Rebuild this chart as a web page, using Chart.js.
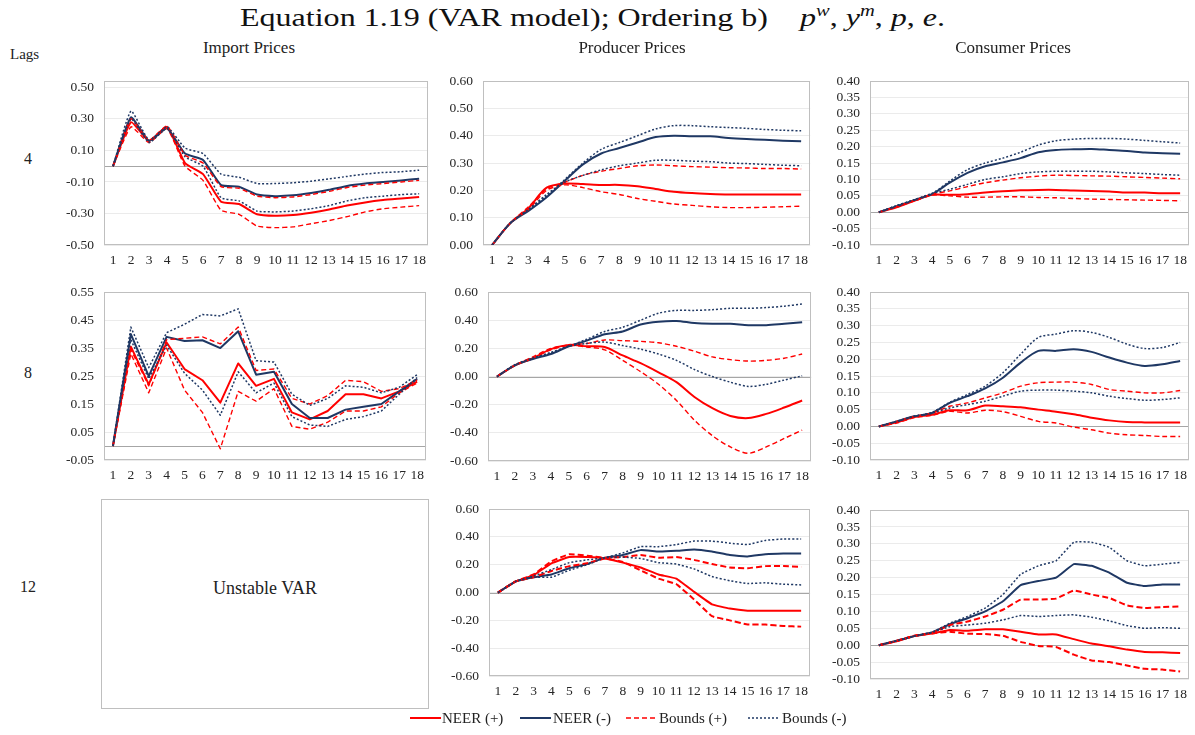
<!DOCTYPE html>
<html>
<head>
<meta charset="utf-8">
<title>Impulse responses – VAR model</title>
<script src="https://cdn.jsdelivr.net/npm/chart.js@4.4.1/dist/chart.umd.min.js"></script>
<style>
  html, body { margin: 0; padding: 0; background: #fff; }
  body { position: relative; width: 1195px; height: 735px; overflow: hidden; font-family: "Liberation Serif", "DejaVu Serif", serif; color: #222; }
  .abs { position: absolute; white-space: nowrap; }
  #title { top: 2px; left: 0; font-size: 25px; line-height: 32px; color: #111; transform-origin: 0 50%; }
  #title i { font-style: italic; }
  #title sup { font-size: 16px; vertical-align: 0; position: relative; top: -10px; }
  .colhead { top: 38px; font-size: 17px; line-height: 20px; color: #222; transform: translateX(-50%); }
  .rowlab { font-size: 16px; line-height: 20px; color: #222; transform: translate(-50%, -50%); }
  #lagsHead { left: 10px; top: 44px; font-size: 15px; line-height: 20px; color: #222; }
  #unstable { left: 101px; top: 499px; width: 326px; height: 208px; border: 1px solid #bfbfbf; }
  #unstable span { position: absolute; left: 50%; top: 88px; transform: translate(-50%, -50%); font-size: 18px; line-height: 22px; color: #222; }
  canvas.panel { position: absolute; }
  .legtext { font-size: 15px; line-height: 20px; top: 708px; color: #222; }
  canvas.legline { position: absolute; top: 712px; }
</style>
</head>
<body>

<div id="title" class="abs"><span id="titleText">Equation 1.19 (VAR model); Ordering b)&nbsp;&nbsp;&nbsp; <i>p</i><sup><i>w</i></sup>, <i>y</i><sup><i>m</i></sup>, <i>p</i>, <i>e</i>.</span></div>
<div id="lagsHead" class="abs">Lags</div>
<div id="unstable" class="abs"><span>Unstable VAR</span></div>

<script>
// ---------------------------------------------------------------------------
// Horizons, headings and axis ticks
// ---------------------------------------------------------------------------
const horizons = ['1','2','3','4','5','6','7','8','9','10','11','12','13','14','15','16','17','18'];
const columnTitles = ['Import Prices', 'Producer Prices', 'Consumer Prices'];
const lagLabels = ['4', '8', '12'];
const legendLabels = ['NEER (+)', 'NEER (-)', 'Bounds (+)', 'Bounds (-)'];

const ticksImport4   = [-0.50, -0.30, -0.10, 0.10, 0.30, 0.50];
const ticksImport8   = [-0.05, 0.05, 0.15, 0.25, 0.35, 0.45, 0.55];
const ticksProducer4 = [0.00, 0.10, 0.20, 0.30, 0.40, 0.50, 0.60];
const ticksProducerW = [-0.60, -0.40, -0.20, 0.00, 0.20, 0.40, 0.60];
const ticksConsumer  = [-0.10, -0.05, 0.00, 0.05, 0.10, 0.15, 0.20, 0.25, 0.30, 0.35, 0.40];

// ---------------------------------------------------------------------------
// Impulse responses: NEER (+), NEER (-) and their upper / lower bounds
// ---------------------------------------------------------------------------
// Import prices, 4 lags
const imp4Pos   = [0, 0.28, 0.16, 0.25, 0.02, -0.05, -0.225, -0.24, -0.305, -0.315, -0.31, -0.295, -0.275, -0.25, -0.23, -0.215, -0.205, -0.195];
const imp4Neg   = [0, 0.31, 0.16, 0.24, 0.08, 0.04, -0.12, -0.13, -0.18, -0.19, -0.185, -0.17, -0.15, -0.125, -0.11, -0.10, -0.09, -0.08];
const imp4PosHi = [0, 0.30, 0.165, 0.255, 0.07, 0.02, -0.13, -0.14, -0.19, -0.20, -0.195, -0.18, -0.16, -0.135, -0.12, -0.11, -0.10, -0.09];
const imp4PosLo = [0, 0.25, 0.15, 0.24, 0.00, -0.09, -0.28, -0.305, -0.38, -0.39, -0.385, -0.365, -0.345, -0.32, -0.29, -0.27, -0.26, -0.25];
const imp4NegHi = [0, 0.35, 0.165, 0.25, 0.115, 0.08, -0.05, -0.07, -0.11, -0.11, -0.105, -0.095, -0.08, -0.065, -0.05, -0.04, -0.035, -0.025];
const imp4NegLo = [0, 0.30, 0.15, 0.24, 0.06, 0.00, -0.20, -0.22, -0.285, -0.29, -0.285, -0.27, -0.25, -0.22, -0.20, -0.19, -0.18, -0.175];

// Producer prices, 4 lags
const prod4Pos   = [0, 0.08, 0.135, 0.21, 0.225, 0.223, 0.22, 0.22, 0.215, 0.205, 0.195, 0.19, 0.187, 0.185, 0.185, 0.185, 0.185, 0.185];
const prod4Neg   = [0, 0.08, 0.125, 0.175, 0.235, 0.295, 0.335, 0.355, 0.375, 0.395, 0.40, 0.398, 0.398, 0.392, 0.388, 0.385, 0.382, 0.38];
const prod4PosHi = [0, 0.08, 0.14, 0.205, 0.23, 0.255, 0.27, 0.28, 0.29, 0.293, 0.29, 0.287, 0.285, 0.283, 0.282, 0.28, 0.28, 0.278];
const prod4PosLo = [0, 0.08, 0.13, 0.20, 0.22, 0.21, 0.195, 0.185, 0.17, 0.16, 0.15, 0.145, 0.14, 0.137, 0.137, 0.138, 0.14, 0.142];
const prod4NegHi = [0, 0.08, 0.13, 0.18, 0.24, 0.30, 0.35, 0.375, 0.40, 0.425, 0.437, 0.437, 0.433, 0.43, 0.427, 0.423, 0.42, 0.418];
const prod4NegLo = [0, 0.08, 0.13, 0.185, 0.23, 0.255, 0.275, 0.29, 0.30, 0.31, 0.31, 0.307, 0.305, 0.30, 0.298, 0.295, 0.292, 0.29];

// Consumer prices, 4 lags
const cons4Pos   = [0, 0.015, 0.035, 0.053, 0.053, 0.055, 0.06, 0.064, 0.067, 0.068, 0.068, 0.066, 0.065, 0.063, 0.06, 0.06, 0.058, 0.058];
const cons4Neg   = [0, 0.018, 0.037, 0.055, 0.09, 0.12, 0.14, 0.152, 0.165, 0.183, 0.19, 0.192, 0.193, 0.19, 0.187, 0.182, 0.18, 0.178];
const cons4PosHi = [0, 0.018, 0.036, 0.055, 0.065, 0.078, 0.09, 0.098, 0.105, 0.11, 0.113, 0.112, 0.111, 0.11, 0.108, 0.106, 0.104, 0.102];
const cons4PosLo = [0, 0.016, 0.034, 0.052, 0.05, 0.046, 0.046, 0.047, 0.047, 0.045, 0.044, 0.042, 0.04, 0.039, 0.038, 0.037, 0.036, 0.035];
const cons4NegHi = [0, 0.02, 0.038, 0.057, 0.095, 0.13, 0.15, 0.165, 0.183, 0.205, 0.218, 0.223, 0.225, 0.225, 0.223, 0.219, 0.215, 0.211];
const cons4NegLo = [0, 0.02, 0.038, 0.057, 0.07, 0.085, 0.10, 0.108, 0.118, 0.123, 0.125, 0.125, 0.125, 0.123, 0.12, 0.118, 0.115, 0.113];

// Import prices, 8 lags
const imp8Pos   = [0, 0.355, 0.22, 0.37, 0.275, 0.235, 0.155, 0.295, 0.215, 0.24, 0.12, 0.095, 0.125, 0.185, 0.185, 0.17, 0.195, 0.23];
const imp8Neg   = [0, 0.40, 0.25, 0.39, 0.375, 0.378, 0.35, 0.41, 0.255, 0.265, 0.15, 0.10, 0.10, 0.13, 0.14, 0.15, 0.195, 0.24];
const imp8PosHi = [0, 0.345, 0.215, 0.38, 0.385, 0.39, 0.365, 0.425, 0.27, 0.275, 0.17, 0.15, 0.18, 0.235, 0.23, 0.195, 0.205, 0.235];
const imp8PosLo = [0, 0.33, 0.19, 0.35, 0.20, 0.12, -0.01, 0.195, 0.16, 0.205, 0.07, 0.06, 0.085, 0.125, 0.125, 0.14, 0.19, 0.225];
const imp8NegHi = [0, 0.425, 0.28, 0.405, 0.435, 0.47, 0.465, 0.49, 0.305, 0.30, 0.185, 0.145, 0.17, 0.215, 0.21, 0.19, 0.21, 0.255];
const imp8NegLo = [0, 0.38, 0.24, 0.36, 0.26, 0.20, 0.11, 0.265, 0.19, 0.225, 0.105, 0.075, 0.07, 0.095, 0.105, 0.125, 0.185, 0.245];

// Producer prices, 8 lags
const prod8Pos   = [0, 0.08, 0.13, 0.195, 0.225, 0.215, 0.21, 0.15, 0.095, 0.03, -0.04, -0.145, -0.225, -0.28, -0.295, -0.265, -0.22, -0.17];
const prod8Neg   = [0, 0.08, 0.125, 0.16, 0.215, 0.255, 0.30, 0.32, 0.37, 0.39, 0.395, 0.38, 0.375, 0.375, 0.365, 0.365, 0.375, 0.385];
const prod8PosHi = [0, 0.08, 0.14, 0.20, 0.225, 0.235, 0.26, 0.255, 0.25, 0.24, 0.215, 0.18, 0.14, 0.12, 0.11, 0.115, 0.13, 0.16];
const prod8PosLo = [0, 0.08, 0.13, 0.19, 0.22, 0.21, 0.19, 0.115, 0.035, -0.055, -0.17, -0.31, -0.42, -0.50, -0.545, -0.50, -0.44, -0.38];
const prod8NegHi = [0, 0.08, 0.13, 0.17, 0.215, 0.265, 0.32, 0.35, 0.40, 0.45, 0.47, 0.47, 0.475, 0.485, 0.485, 0.49, 0.50, 0.515];
const prod8NegLo = [0, 0.085, 0.13, 0.17, 0.215, 0.235, 0.245, 0.22, 0.195, 0.16, 0.115, 0.05, 0.00, -0.04, -0.07, -0.055, -0.025, 0.005];

// Consumer prices, 8 lags
const cons8Pos   = [0, 0.012, 0.028, 0.035, 0.048, 0.048, 0.062, 0.06, 0.057, 0.05, 0.044, 0.036, 0.026, 0.018, 0.013, 0.012, 0.012, 0.012];
const cons8Neg   = [0, 0.015, 0.03, 0.04, 0.07, 0.09, 0.113, 0.145, 0.19, 0.225, 0.225, 0.23, 0.222, 0.205, 0.19, 0.18, 0.185, 0.195];
const cons8PosHi = [0, 0.015, 0.03, 0.04, 0.06, 0.07, 0.085, 0.10, 0.12, 0.13, 0.132, 0.132, 0.125, 0.11, 0.105, 0.10, 0.10, 0.107];
const cons8PosLo = [0, 0.01, 0.026, 0.033, 0.045, 0.04, 0.048, 0.044, 0.03, 0.015, 0.01, -0.002, -0.01, -0.02, -0.025, -0.027, -0.03, -0.03];
const cons8NegHi = [0, 0.015, 0.03, 0.042, 0.072, 0.095, 0.12, 0.16, 0.215, 0.265, 0.275, 0.285, 0.28, 0.265, 0.245, 0.232, 0.235, 0.25];
const cons8NegLo = [0, 0.015, 0.03, 0.04, 0.055, 0.065, 0.075, 0.09, 0.105, 0.108, 0.108, 0.105, 0.10, 0.09, 0.083, 0.078, 0.08, 0.085];

// Producer prices, 12 lags
const prod12Pos   = [0, 0.08, 0.125, 0.21, 0.255, 0.255, 0.245, 0.215, 0.18, 0.13, 0.10, 0.005, -0.085, -0.115, -0.13, -0.13, -0.13, -0.13];
const prod12Neg   = [0, 0.08, 0.11, 0.13, 0.175, 0.205, 0.25, 0.27, 0.305, 0.295, 0.30, 0.31, 0.295, 0.27, 0.26, 0.275, 0.28, 0.28];
const prod12PosHi = [0, 0.08, 0.13, 0.225, 0.275, 0.265, 0.25, 0.255, 0.27, 0.25, 0.255, 0.235, 0.205, 0.18, 0.175, 0.19, 0.19, 0.185];
const prod12PosLo = [0, 0.08, 0.11, 0.155, 0.19, 0.21, 0.245, 0.22, 0.16, 0.10, 0.06, -0.05, -0.17, -0.20, -0.23, -0.23, -0.24, -0.245];
const prod12NegHi = [0, 0.08, 0.12, 0.165, 0.215, 0.235, 0.25, 0.285, 0.33, 0.33, 0.345, 0.37, 0.37, 0.355, 0.345, 0.375, 0.385, 0.385];
const prod12NegLo = [0, 0.08, 0.11, 0.11, 0.16, 0.20, 0.25, 0.255, 0.245, 0.215, 0.205, 0.17, 0.115, 0.085, 0.065, 0.07, 0.06, 0.055];

// Consumer prices, 12 lags
const cons12Pos   = [0, 0.012, 0.027, 0.035, 0.045, 0.043, 0.047, 0.047, 0.04, 0.032, 0.032, 0.018, 0.005, -0.003, -0.013, -0.02, -0.021, -0.023];
const cons12Neg   = [0, 0.013, 0.027, 0.038, 0.062, 0.08, 0.10, 0.13, 0.178, 0.19, 0.20, 0.24, 0.235, 0.215, 0.185, 0.175, 0.18, 0.18];
const cons12PosHi = [0, 0.013, 0.028, 0.036, 0.06, 0.07, 0.085, 0.105, 0.135, 0.135, 0.138, 0.162, 0.15, 0.14, 0.118, 0.11, 0.113, 0.115];
const cons12PosLo = [0, 0.012, 0.028, 0.035, 0.04, 0.034, 0.033, 0.028, 0.01, -0.002, -0.005, -0.028, -0.045, -0.05, -0.06, -0.07, -0.072, -0.078];
const cons12NegHi = [0, 0.013, 0.027, 0.038, 0.065, 0.085, 0.11, 0.15, 0.21, 0.235, 0.25, 0.305, 0.305, 0.29, 0.25, 0.235, 0.24, 0.245];
const cons12NegLo = [0, 0.013, 0.027, 0.038, 0.055, 0.06, 0.065, 0.075, 0.088, 0.085, 0.088, 0.09, 0.083, 0.072, 0.058, 0.05, 0.052, 0.05];

// ---------------------------------------------------------------------------
// Styling and layout
// ---------------------------------------------------------------------------
const RED = '#ff0000';
const NAVY = '#1f3864';
const TICK_FONT = { family: '"Liberation Serif", serif', size: 13.5 };
const TICK_COLOR = '#262626';
const AXIS_W = 60, AXIS_H = 28, PAD_T = 10, PAD_R = 4;

// plot-area rectangles (left, top, width, height) and y-axis set-up per panel
const panels = [
  { l: 104, t: 73,  w: 325, h: 172, min: -0.5,  max: 0.54, ticks: ticksImport4,   tension: 0.15, heavy: false,
    s: [imp4Pos, imp4Neg, imp4PosHi, imp4PosLo, imp4NegHi, imp4NegLo] },
  { l: 483, t: 73,  w: 328, h: 172, min: 0,     max: 0.6,  ticks: ticksProducer4, tension: 0.3,  heavy: false,
    s: [prod4Pos, prod4Neg, prod4PosHi, prod4PosLo, prod4NegHi, prod4NegLo] },
  { l: 870, t: 73,  w: 320, h: 172, min: -0.1,  max: 0.4,  ticks: ticksConsumer,  tension: 0.3,  heavy: false,
    s: [cons4Pos, cons4Neg, cons4PosHi, cons4PosLo, cons4NegHi, cons4NegLo] },
  { l: 104, t: 284, w: 323, h: 176, min: -0.05, max: 0.55, ticks: ticksImport8,   tension: 0,    heavy: false,
    s: [imp8Pos, imp8Neg, imp8PosHi, imp8PosLo, imp8NegHi, imp8NegLo] },
  { l: 488, t: 284, w: 324, h: 177, min: -0.6,  max: 0.6,  ticks: ticksProducerW, tension: 0.3,  heavy: false,
    s: [prod8Pos, prod8Neg, prod8PosHi, prod8PosLo, prod8NegHi, prod8NegLo] },
  { l: 870, t: 284, w: 320, h: 176, min: -0.1,  max: 0.4,  ticks: ticksConsumer,  tension: 0.3,  heavy: false,
    s: [cons8Pos, cons8Neg, cons8PosHi, cons8PosLo, cons8NegHi, cons8NegLo] },
  { l: 489, t: 501, w: 322, h: 175, min: -0.6,  max: 0.6,  ticks: ticksProducerW, tension: 0.1,  heavy: true,
    s: [prod12Pos, prod12Neg, prod12PosHi, prod12PosLo, prod12NegHi, prod12NegLo] },
  { l: 870, t: 502, w: 320, h: 177, min: -0.1,  max: 0.4,  ticks: ticksConsumer,  tension: 0.1,  heavy: true,
    s: [cons12Pos, cons12Neg, cons12PosHi, cons12PosLo, cons12NegHi, cons12NegLo] }
];

const lineStyles = [
  { color: RED,  width: 2,   dash: [] },      // NEER (+)
  { color: NAVY, width: 2,   dash: [] },      // NEER (-)
  { color: RED,  width: 1.4, dash: [5, 3] },  // Bounds (+)
  { color: NAVY, width: 1.5, dash: [2, 2] }   // Bounds (-)
];

// frame and zero line under the series
const framePlugin = {
  id: 'plotFrame',
  beforeDatasetsDraw(chart) {
    const { ctx, chartArea: a, scales: { y } } = chart;
    ctx.save();
    const z = Math.round(y.getPixelForValue(0)) + 0.5;
    if (z > a.top + 1 && z < a.bottom - 1) {
      ctx.strokeStyle = '#a6a6a6';
      ctx.lineWidth = 1;
      ctx.beginPath();
      ctx.moveTo(a.left, z);
      ctx.lineTo(a.right, z);
      ctx.stroke();
    }
    ctx.strokeStyle = '#bfbfbf';
    ctx.lineWidth = 1;
    ctx.strokeRect(Math.round(a.left) + 0.5, Math.round(a.top) + 0.5,
                   Math.round(a.right - a.left) - 1, Math.round(a.bottom - a.top) - 1);
    ctx.restore();
  }
};

function makeDatasets(p) {
  const [pos, neg, posHi, posLo, negHi, negLo] = p.s;
  const bp = Object.assign({}, lineStyles[2]);
  if (p.heavy) { bp.width = 2; bp.dash = [6, 3]; }
  const mk = (label, data, st) => ({
    label, data,
    borderColor: st.color, backgroundColor: st.color,
    borderWidth: st.width, borderDash: st.dash,
    pointRadius: 0, fill: false, tension: p.tension
  });
  // bounds first so they sit above the point estimates
  return [
    mk(legendLabels[3], negHi, lineStyles[3]),
    mk(legendLabels[3], negLo, lineStyles[3]),
    mk(legendLabels[2], posHi, bp),
    mk(legendLabels[2], posLo, bp),
    mk(legendLabels[1], neg, lineStyles[1]),
    mk(legendLabels[0], pos, lineStyles[0])
  ];
}

panels.forEach((p, i) => {
  const cv = document.createElement('canvas');
  cv.className = 'panel';
  const W = AXIS_W + p.w + PAD_R, H = PAD_T + p.h + AXIS_H;
  cv.width = W; cv.height = H;
  cv.style.width = W + 'px'; cv.style.height = H + 'px';
  cv.style.left = (p.l - AXIS_W) + 'px';
  cv.style.top = (p.t - PAD_T) + 'px';
  document.body.appendChild(cv);

  new Chart(cv, {
    type: 'line',
    data: { labels: horizons, datasets: makeDatasets(p) },
    options: {
      responsive: false,
      animation: false,
      devicePixelRatio: 1,
      layout: { padding: { top: PAD_T, right: PAD_R, left: 0, bottom: 0 } },
      plugins: { legend: { display: false }, tooltip: { enabled: false } },
      elements: { line: { borderCapStyle: 'butt', borderJoinStyle: 'round' } },
      scales: {
        x: {
          type: 'category', offset: true,
          grid: { display: false, drawTicks: false },
          border: { display: false },
          ticks: { font: TICK_FONT, color: TICK_COLOR, padding: 7, maxRotation: 0, autoSkip: false },
          afterFit(s) { s.height = AXIS_H; }
        },
        y: {
          min: p.min, max: p.max,
          grid: { color: '#ebebeb', drawTicks: false, lineWidth: 1 },
          border: { display: false },
          ticks: { font: TICK_FONT, color: TICK_COLOR, padding: 10, autoSkip: false,
                   callback: v => Number(v).toFixed(2) },
          afterBuildTicks(s) { s.ticks = p.ticks.map(v => ({ value: v })); },
          afterFit(s) { s.width = AXIS_W; }
        }
      }
    },
    plugins: [framePlugin]
  });
});

// column headings and lag labels
const colCenters = [249, 632, 1013];
columnTitles.forEach((t, i) => {
  const d = document.createElement('div');
  d.className = 'abs colhead';
  d.style.left = colCenters[i] + 'px';
  d.textContent = t;
  document.body.appendChild(d);
});
const rowCenters = [159, 373, 587];
lagLabels.forEach((t, i) => {
  const d = document.createElement('div');
  d.className = 'abs rowlab';
  d.style.left = '28px';
  d.style.top = rowCenters[i] + 'px';
  d.textContent = t;
  document.body.appendChild(d);
});

// legend
const legLine = [410, 520, 626, 748];
const legText = [442, 553, 659, 782];
legendLabels.forEach((t, i) => {
  const st = lineStyles[i];
  const c = document.createElement('canvas');
  c.className = 'legline';
  c.width = 31; c.height = 12;
  c.style.left = legLine[i] + 'px';
  document.body.appendChild(c);
  const g = c.getContext('2d');
  g.strokeStyle = st.color;
  g.lineWidth = st.width;
  g.setLineDash(st.dash);
  g.beginPath();
  g.moveTo(0, 6); g.lineTo(31, 6);
  g.stroke();
  const d = document.createElement('div');
  d.className = 'abs legtext';
  d.style.left = legText[i] + 'px';
  d.textContent = t;
  document.body.appendChild(d);
});

// stretch the heading to its typeset width
(function () {
  const span = document.getElementById('titleText');
  const box = document.getElementById('title');
  const w = span.getBoundingClientRect().width;
  const target = 705;
  box.style.left = '240px';
  box.style.transform = 'scaleX(' + (target / w).toFixed(4) + ')';
})();
</script>
</body>
</html>
